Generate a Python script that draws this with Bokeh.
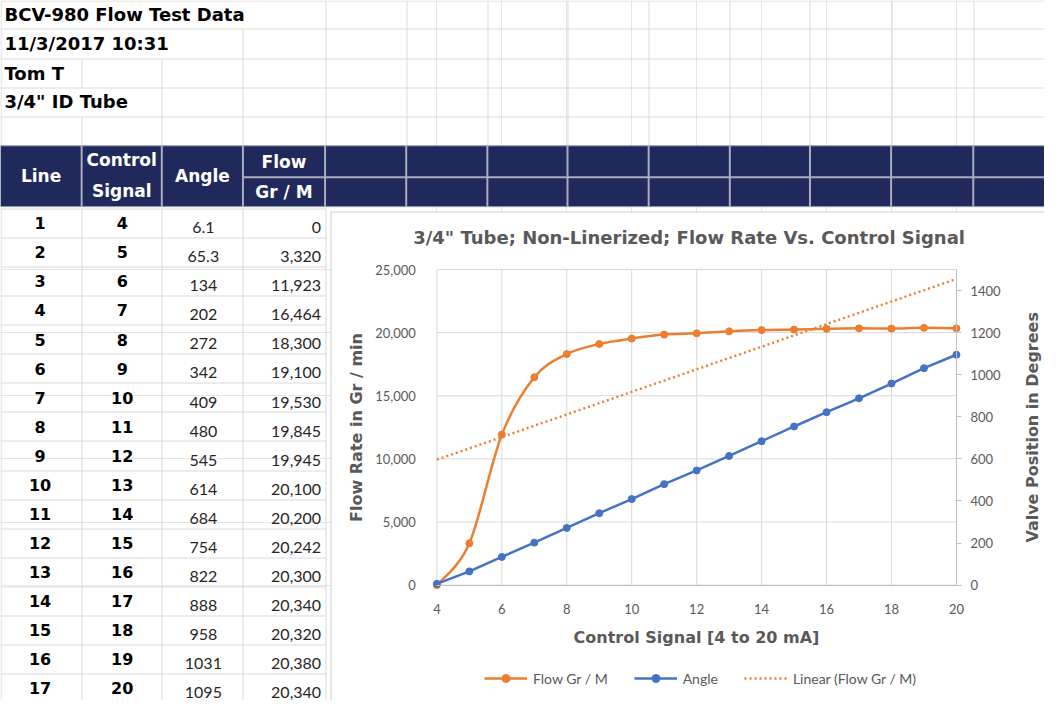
import math
import numpy as np
from bokeh.plotting import figure
from bokeh.models import (Range1d, LinearAxis, FixedTicker, NumeralTickFormatter,
                          Legend, LegendItem, ColumnDataSource)
from bokeh.core.properties import value
from bokeh.embed import file_html
from bokeh.resources import INLINE

# ---------------- data ----------------
info_rows = ["BCV-980 Flow Test Data", "11/3/2017 10:31", "Tom T", '3/4" ID Tube']
line_no = list(range(1, 18))
signal = [4, 5, 6, 7, 8, 9, 10, 11, 12, 13, 14, 15, 16, 17, 18, 19, 20]
angle = [6.1, 65.3, 134, 202, 272, 342, 409, 480, 545, 614, 684, 754, 822, 888, 958, 1031, 1095]
flow = [0, 3320, 11923, 16464, 18300, 19100, 19530, 19845, 19945, 20100, 20200, 20242,
        20300, 20340, 20320, 20380, 20340]
x_ticks = [4, 6, 8, 10, 12, 14, 16, 18, 20]
y_ticks = [0, 5000, 10000, 15000, 20000, 25000]
y2_ticks = [0, 200, 400, 600, 800, 1000, 1200, 1400]
chart_title = '3/4" Tube;  Non-Linerized; Flow Rate Vs. Control Signal'
x_label = "Control Signal [4 to 20 mA]"
y_label = "Flow Rate in Gr / min"
y2_label = "Valve Position in Degrees"
legend_labels = ["Flow Gr / M", "Angle", "Linear (Flow Gr / M)"]
header_text = ["Line", "Control", "Signal", "Angle", "Flow", "Gr / M"]

# ---------------- styles / geometry (reference pixel space) ----------------
ORANGE = "#ED7D31"
BLUE = "#4472C4"
NAVY = "#1F295B"
GRIDC = "#d9d9d9"
TXT = "#595959"
BOLD = "DejaVu Sans"
NUM = "Lato"

W, H = 1044, 700
SX0, SX1, SY0, SY1 = 5, 1060, 3, 716            # sheet area shown on the canvas
COLS = [5, 87, 168, 250, 333, 415, 497, 578, 660, 742, 823, 905, 988, 1070]
TOP_ROWS = [3, 32, 62, 92, 121, 151]
ROW_START_COL = [4, 3, 1, 2, 1]
NAVY_TOP, NAVY_MID, NAVY_BOT = 151, 183, 213
ROW_H = 29.58
BODY_TOP = 215
CHART_BOX = (338, 1060, 218, 716)                # left, right, top, bottom
PX_LO, PX_HI = 446, 971                          # pixel of x=4 and x=20
PY_LO, PY_HI = 598.5, 277                        # pixel of y=0 and y=top

XMIN, XMAX = 4, 20
YMAX, Y2MAX = 25000, 1500


def snap_x(r):
    k = (SX1 - SX0) / W
    return SX0 + (round((r - SX0) / k) + 0.5) * k


def snap_y(r):
    k = (SY1 - SY0) / H
    return SY0 + (round((r - SY0) / k) + 0.5) * k


# chart ranges chosen so the plot area lands on its place in the sheet
xpp = (XMAX - XMIN) / (PX_HI - PX_LO)
x_start = XMIN - (PX_LO - SX0) * xpp
x_end = XMAX + (SX1 - PX_HI) * xpp
ypp = YMAX / (PY_LO - PY_HI)
y_start = -(SY1 - PY_LO) * ypp
y_end = YMAX + (PY_HI - SY0) * ypp
y2pp = Y2MAX / (PY_LO - PY_HI)
y2_start = -(SY1 - PY_LO) * y2pp
y2_end = Y2MAX + (PY_HI - SY0) * y2pp

p = figure(width=W, height=H, x_range=Range1d(x_start, x_end), y_range=Range1d(y_start, y_end),
           output_backend="svg", toolbar_location=None, x_axis_location=None, y_axis_location=None,
           min_border=0, outline_line_color=None, background_fill_color="white",
           border_fill_color="white")
p.title.visible = False
p.extra_x_ranges = {"sx": Range1d(SX0, SX1)}
p.extra_y_ranges = {"sy": Range1d(SY1, SY0), "angle": Range1d(y2_start, y2_end)}
S = dict(x_range_name="sx", y_range_name="sy")

cols_s = [snap_x(c) for c in COLS]
rows_s = [snap_y(r) for r in TOP_ROWS]

# ---------------- spreadsheet: top rows ----------------
p.segment(x0=[SX0] * len(rows_s), y0=rows_s, x1=[SX1] * len(rows_s), y1=rows_s,
          line_color=GRIDC, line_width=1, **S)
vx, vy0, vy1 = [], [], []
for i in range(5):
    for c in [0] + list(range(ROW_START_COL[i], len(COLS))):
        vx.append(cols_s[c]); vy0.append(rows_s[i]); vy1.append(rows_s[i + 1] if i < 4 else NAVY_TOP)
p.segment(x0=vx, y0=vy0, x1=vx, y1=vy1, line_color=GRIDC, line_width=1, **S)
p.text(x=[9] * 4, y=[17, 47, 77, 106], text=info_rows, text_font=value(BOLD),
       text_font_style="bold", text_font_size="18px", text_color="black",
       text_baseline="middle", text_align="left", **S)

# navy header
p.quad(left=[SX0], right=[SX1], top=[NAVY_TOP], bottom=[NAVY_BOT], fill_color=NAVY,
       line_color="#9aa0b4", line_width=1, **S)
nc = len(COLS) - 1
p.segment(x0=COLS[1:], y0=[NAVY_TOP] * nc, x1=COLS[1:], y1=[NAVY_BOT] * nc,
          line_color="#a9adbd", line_width=2, **S)
p.segment(x0=[COLS[3]], y0=[NAVY_MID], x1=[SX1], y1=[NAVY_MID], line_color="#a9adbd", line_width=2, **S)
hdr_x = [(COLS[0] + COLS[1]) / 2, (COLS[1] + COLS[2]) / 2, (COLS[1] + COLS[2]) / 2,
         (COLS[2] + COLS[3]) / 2, (COLS[3] + COLS[4]) / 2, (COLS[3] + COLS[4]) / 2]
hdr_y = [182, 165, 197, 182, 167, 198]
p.text(x=hdr_x, y=hdr_y, text=header_text, text_font=value(BOLD), text_font_style="bold",
       text_font_size="17px", text_color="white", text_align="center", text_baseline="middle", **S)

# ---------------- spreadsheet: table body ----------------
n = len(line_no)
row_lines = [snap_y(BODY_TOP + k * ROW_H) for k in range(n + 1)]
p.segment(x0=[SX0] * len(row_lines), y0=row_lines, x1=[cols_s[4]] * len(row_lines), y1=row_lines,
          line_color=GRIDC, line_width=1, **S)
p.segment(x0=cols_s[:5], y0=[BODY_TOP] * 5, x1=cols_s[:5], y1=[SY1] * 5, line_color=GRIDC,
          line_width=1, **S)
bold_y = [230 + k * ROW_H for k in range(n)]
norm_y = [b + 4.5 for b in bold_y]
p.text(x=[45] * n, y=bold_y, text=[str(v) for v in line_no], text_font=value(BOLD),
       text_font_style="bold", text_font_size="16px", text_color="black",
       text_align="center", text_baseline="middle", **S)
p.text(x=[128] * n, y=bold_y, text=[str(v) for v in signal], text_font=value(BOLD),
       text_font_style="bold", text_font_size="16px", text_color="black",
       text_align="center", text_baseline="middle", **S)
p.text(x=[210] * n, y=norm_y, text=[f"{v:g}" for v in angle], text_font=value(NUM),
       text_font_size="16px", text_color="#262626", text_align="center", text_baseline="middle", **S)
p.text(x=[329] * n, y=norm_y, text=[f"{v:,}" for v in flow], text_font=value(NUM),
       text_font_size="16px", text_color="#262626", text_align="right", text_baseline="middle", **S)

# ---------------- chart box ----------------
p.quad(left=[snap_x(CHART_BOX[0])], right=[CHART_BOX[1]], top=[snap_y(CHART_BOX[2])],
       bottom=[CHART_BOX[3]], fill_color="white", line_color="#d0d0d0", line_width=1, **S)
p.text(x=[(CHART_BOX[0] + CHART_BOX[1]) / 2 + 5], y=[244], text=[chart_title], text_font=value(BOLD),
       text_font_style="bold", text_font_size="18px", text_color=TXT, text_align="center",
       text_baseline="middle", **S)
p.text(x=[1048], y=[(PY_LO + PY_HI) / 2], text=[y2_label], angle=math.pi / 2, text_font=value(BOLD),
       text_font_style="bold", text_font_size="16px", text_color=TXT, text_align="center",
       text_baseline="middle", **S)

# grid lines of the plot area (at the tick values)
p.segment(x0=x_ticks, y0=[0] * len(x_ticks), x1=x_ticks, y1=[YMAX] * len(x_ticks),
          line_color=GRIDC, line_width=1)
p.segment(x0=[XMIN] * len(y_ticks), y0=y_ticks, x1=[XMAX] * len(y_ticks), y1=y_ticks,
          line_color=GRIDC, line_width=1)

# axes drawn at the plot-area edges
xax = LinearAxis(ticker=FixedTicker(ticks=x_ticks), axis_label=x_label, fixed_location=0,
                 bounds=(XMIN, XMAX))
yax = LinearAxis(ticker=FixedTicker(ticks=y_ticks), formatter=NumeralTickFormatter(format="0,0"),
                 axis_label=y_label, fixed_location=XMIN, bounds=(0, YMAX))
rax = LinearAxis(y_range_name="angle", ticker=FixedTicker(ticks=y2_ticks), fixed_location=XMAX,
                 bounds=(0, Y2MAX))
for ax in (xax, yax, rax):
    ax.major_label_text_font = NUM
    ax.major_label_text_font_size = "13px"
    ax.major_label_text_color = TXT
    ax.axis_label_text_font = BOLD
    ax.axis_label_text_font_style = "bold"
    ax.axis_label_text_font_size = "16px"
    ax.axis_label_text_color = TXT
    ax.minor_tick_line_color = None
xax.axis_line_color = "#c0c0c0"
xax.major_tick_line_color = None
xax.major_label_standoff = 13
xax.axis_label_standoff = 10
yax.axis_line_color = None
yax.major_tick_line_color = None
yax.major_label_standoff = 15
yax.axis_label_standoff = 6
rax.axis_line_color = "#c0c0c0"
rax.major_tick_line_color = "#c0c0c0"
rax.major_tick_out = 5
rax.major_tick_in = 0
rax.major_label_standoff = 9
p.add_layout(xax, "below")
p.add_layout(yax, "left")
p.add_layout(rax, "right")

# ---------------- series ----------------
X = np.array(signal, float)
Y = np.array(flow, float)
Xp = np.concatenate([[X[0]], X, [X[-1]]])
Yp = np.concatenate([[Y[0]], Y, [Y[-1]]])
idx = np.arange(len(X) - 1)
bz = ColumnDataSource(dict(
    x0=X[:-1], y0=Y[:-1], x1=X[1:], y1=Y[1:],
    cx0=X[:-1] + (Xp[idx + 2] - Xp[idx]) / 6, cy0=Y[:-1] + (Yp[idx + 2] - Yp[idx]) / 6,
    cx1=X[1:] - (Xp[idx + 3] - Xp[idx + 1]) / 6, cy1=Y[1:] - (Yp[idx + 3] - Yp[idx + 1]) / 6))
flow_curve = p.bezier(x0="x0", y0="y0", x1="x1", y1="y1", cx0="cx0", cy0="cy0", cx1="cx1",
                      cy1="cy1", source=bz, line_color=ORANGE, line_width=2.5)
flow_pts = p.scatter(signal, flow, size=7, fill_color=ORANGE, line_color=ORANGE)

ang_line = p.line(signal, angle, y_range_name="angle", line_color=BLUE, line_width=2.5)
ang_pts = p.scatter(signal, angle, y_range_name="angle", size=7, fill_color=BLUE, line_color=BLUE)

coef = np.polyfit(X, Y, 1)
tx = [min(signal), max(signal)]
trend = p.line(tx, list(np.polyval(coef, tx)), line_color=ORANGE, line_width=2.4, line_dash="2 3")

legend = Legend(items=[LegendItem(label=legend_labels[0], renderers=[flow_curve, flow_pts]),
                       LegendItem(label=legend_labels[1], renderers=[ang_line, ang_pts]),
                       LegendItem(label=legend_labels[2], renderers=[trend])],
                orientation="horizontal", location=(484, 12), glyph_width=43, label_standoff=6,
                spacing=26, border_line_color=None, background_fill_alpha=0,
                label_text_font=NUM, label_text_font_size="14px", label_text_color=TXT,
                margin=0, padding=2)
p.add_layout(legend, "center")

open("out.html", "w").write(file_html(p, INLINE))
